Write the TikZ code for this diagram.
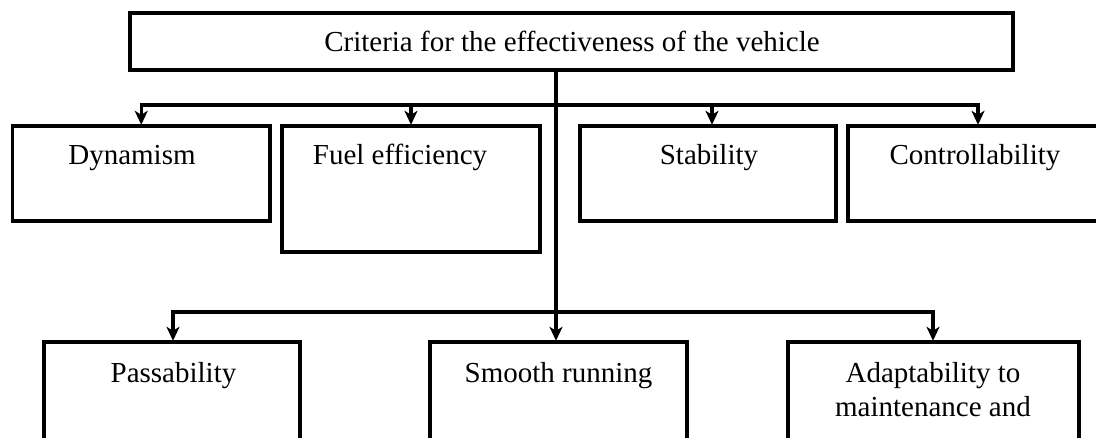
\documentclass[tikz,border=0pt]{standalone}
\usepackage{fontspec}
\setmainfont{Liberation Serif}
\usetikzlibrary{arrows.meta}
\begin{document}
\begin{tikzpicture}[x=1pt,y=-1pt,
  box/.style={draw=black,line width=3.2pt,rectangle,inner sep=0pt,outer sep=0pt,anchor=north west},
  lbl/.style={inner sep=0pt,font=\fontsize{29}{34}\selectfont,text=black},
  conn/.style={draw=black,line width=3.2pt},
  arr/.style={conn,-{Stealth[length=14pt,width=13pt,inset=4pt]},shorten >=1.2pt}]
\useasboundingbox (0,0) rectangle (1096,437);
\clip (0,0) rectangle (1096,437);
% top box
\node[box,minimum width=883pt,minimum height=57pt] (top) at (130,13) {};
\node[lbl,anchor=base] (topL) at (572,51) {Criteria for the effectiveness of the vehicle};
% first row
\node[box,minimum width=257.5pt,minimum height=95pt] (dyn) at (12.5,126) {};
\node[box,minimum width=258pt,minimum height=126pt] (fuel) at (282,126) {};
\node[box,minimum width=256pt,minimum height=95pt] (stab) at (580,126) {};
\node[box,minimum width=262pt,minimum height=95pt] (ctrl) at (848,126) {};
\node[lbl,anchor=base] (dynL) at (132,164) {Dynamism};
\node[lbl,anchor=base] (fuelL) at (400,164) {Fuel efficiency};
\node[lbl,anchor=base] (stabL) at (709,164) {Stability};
\node[lbl,anchor=base] (ctrlL) at (975,164) {Controllability};
% second row
\node[box,minimum width=256pt,minimum height=140pt] (pass) at (44,342) {};
\node[box,minimum width=257pt,minimum height=140pt] (smooth) at (430,342) {};
\node[box,minimum width=291pt,minimum height=140pt] (adapt) at (788,342) {};
\node[lbl,anchor=base] (passL) at (173.5,382) {Passability};
\node[lbl,anchor=base] (smoothL) at (558.5,382) {Smooth running};
\node[lbl,anchor=north,align=center] (adaptL) at (933,362.5) {Adaptability to\\maintenance and};
% connectors
\coordinate (j1) at (556,105);
\coordinate (j2) at (556,312);
\draw[arr] (top.south -| j1) -- (smooth.north -| j1);
\draw[arr] (j1) -| (dyn.north);
\draw[arr] (j1) -| (fuel.north);
\draw[arr] (j1) -| ([xshift=4pt]stab.north);
\draw[arr] (j1) -| ([xshift=-1pt]ctrl.north);
\draw[arr] (j2) -| ([xshift=1pt]pass.north);
\draw[arr] (j2) -| ([xshift=-0.5pt]adapt.north);
\end{tikzpicture}
\end{document}
